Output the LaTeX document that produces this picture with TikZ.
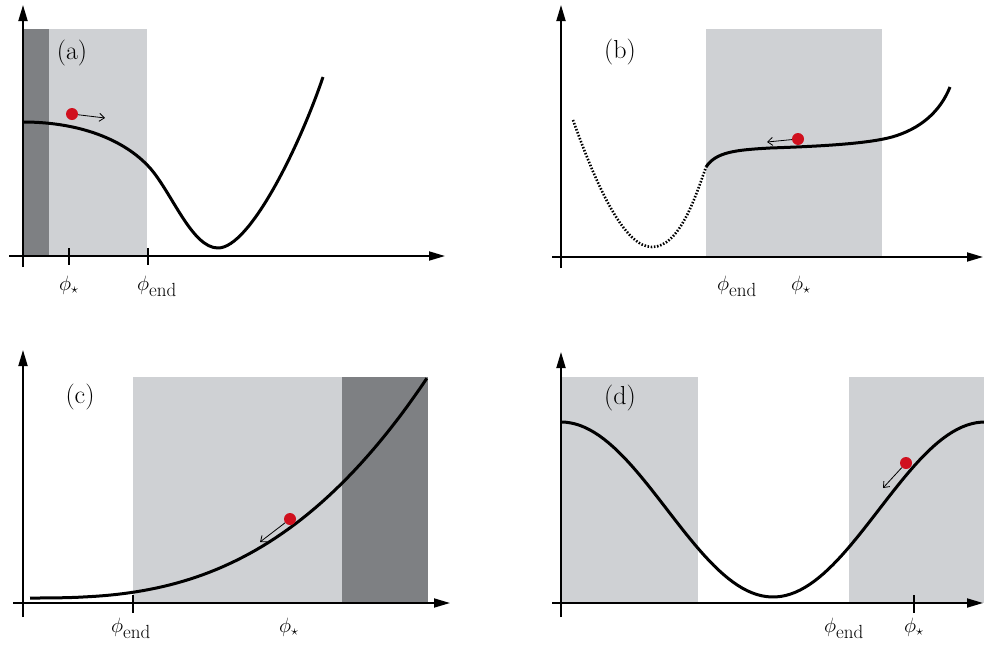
\documentclass[tikz,border=0pt]{standalone}
\usetikzlibrary{arrows.meta}
\definecolor{lgray}{HTML}{CFD1D4}
\definecolor{dgray}{HTML}{7E8083}
\definecolor{ballred}{HTML}{D0101E}
\newcommand{\phiend}{$\phi_{\mbox{\fontsize{19}{19}\selectfont end}}$}
\newcommand{\phistar}{$\phi_{\star}$}
\begin{document}
\begin{tikzpicture}[x=1pt,y=-1pt,
  axis/.style={line width=1.8pt,-{Triangle[length=16pt,width=9pt]}},
  curve/.style={line width=3pt,line join=round},
  tick/.style={line width=1.8pt},
  ball/.style={circle,fill=ballred,inner sep=0pt,minimum size=12pt},
  push/.style={line width=0.8pt,-{Straight Barb[length=5pt,width=8pt]}},
  lab/.style={font=\fontsize{20}{22}\selectfont,inner sep=0pt,anchor=base west},
  panel/.style={font=\fontsize{26}{28}\selectfont,inner sep=0pt}]
\useasboundingbox (0,0) rectangle (984,648);
% ---------- (a)
\fill[dgray] (23,29) rectangle (49,256);
\fill[lgray] (49,29) rectangle (147,256);
\draw[axis] (23,267) -- (23,5);
\draw[axis] (9,256) -- (445,256);
\draw[tick] (69,248) -- (69,265);
\draw[tick] (148,248) -- (148,265);
\draw[curve] (23,122) .. controls (80,122) and (125,140) .. (150,168)
  .. controls (172,193) and (192,248) .. (218,248)
  .. controls (250,248) and (300,145) .. (323,77);
\node[ball] (ba) at (72,114) {};
\coordinate (aa) at (105,118);
\draw[push] (ba) -- (aa);
\node[panel] (pa) at (72,53) {(a)};
\node[lab] (a1) at (59,290) {\phistar};
\node[lab] (a2) at (137,290) {\phiend};
% ---------- (b)
\fill[lgray] (706,29) rectangle (882,257);
\draw[axis] (561,268) -- (561,5);
\draw[axis] (552,257) -- (983,257);
\draw[line width=2.6pt,dash pattern=on 1.5pt off 1.7pt] (573,120) .. controls (598,190) and (625,247) .. (652,247)
  .. controls (680,247) and (696,195) .. (706,167);
\draw[curve] (706,167) .. controls (716,152) and (735,150) .. (770,148)
  .. controls (830,146) and (870,143) .. (892,137)
  .. controls (920,129) and (940,112) .. (950,87);
\node[ball] (bb) at (798,139) {};
\coordinate (ab) at (767,142);
\draw[push] (bb) -- (ab);
\node[panel] (pb) at (620,52) {(b)};
\node[lab] (b1) at (717,290) {\phiend};
\node[lab] (b2) at (791,290) {\phistar};
% ---------- (c)
\fill[lgray] (133,377) rectangle (342,603);
\fill[dgray] (342,377) rectangle (428,603);
\draw[axis] (23,617) -- (23,350);
\draw[axis] (13,603) -- (450,603);
\draw[tick] (133,595) -- (133,613);
\draw[curve] (30,598) -- plot[domain=0.02:1,samples=60] ({30+397*\x},{598-220*\x^2.7});
\node[ball] (bc) at (290,519) {};
\coordinate (ac) at (260,542);
\draw[push] (bc) -- (ac);
\node[panel] (pc) at (80,397) {(c)};
\node[lab] (c1) at (111,632) {\phiend};
\node[lab] (c2) at (279,632) {\phistar};
% ---------- (d)
\fill[lgray] (561,377) rectangle (698,603);
\fill[lgray] (849,377) rectangle (984,603);
\draw[axis] (561,617) -- (561,352);
\draw[axis] (552,603) -- (983,603);
\draw[tick] (914,595) -- (914,613);
\draw[curve] plot[domain=0:425,samples=90] ({561+\x},{509.5-87.5*cos(0.84906*\x)});
\node[ball] (bd) at (906,463) {};
\coordinate (ad) at (883,488);
\draw[push] (bd) -- (ad);
\node[panel] (pd) at (620,398) {(d)};
\node[lab] (d1) at (824,632) {\phiend};
\node[lab] (d2) at (904,632) {\phistar};
\end{tikzpicture}
\end{document}
